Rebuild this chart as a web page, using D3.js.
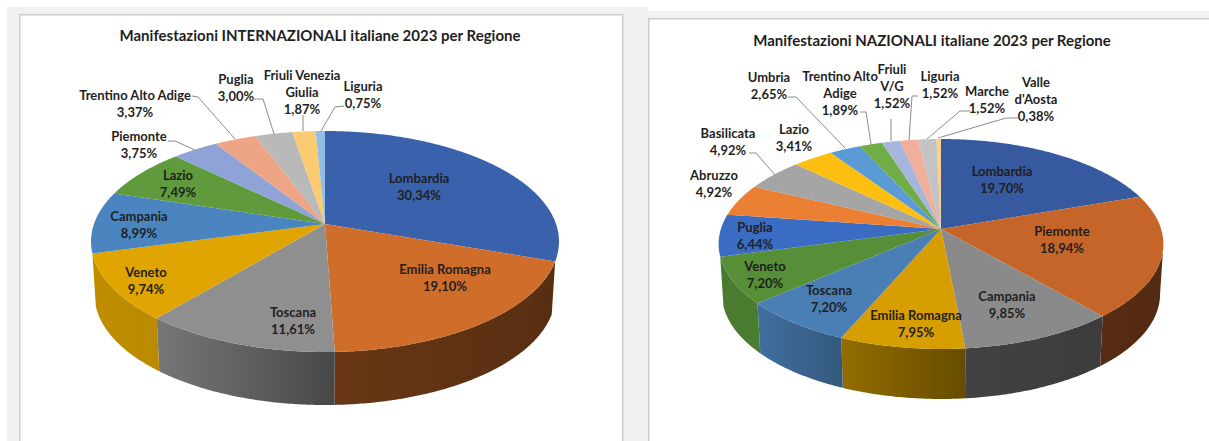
<!DOCTYPE html>
<html>
<head>
<meta charset="utf-8">
<script src="https://cdn.jsdelivr.net/npm/d3@7"></script>
<style>
  html, body { margin: 0; padding: 0; background: #fff; }
  svg { display: block; }
  text { font-family: Lato, "Noto Sans", sans-serif; font-weight: 700; fill: #1f1f1f; }
</style>
</head>
<body>
<svg id="chart" width="1209" height="441"></svg>
<script>
// Internazionali
const intlRegions = ["Lombardia", "Emilia Romagna", "Toscana", "Veneto", "Campania", "Lazio", "Piemonte", "Trentino Alto Adige", "Puglia", "Friuli Venezia Giulia", "Liguria"];
const intlValues = [30.34, 19.10, 11.61, 9.74, 8.99, 7.49, 3.75, 3.37, 3.00, 1.87, 0.75];
const intlColors = ["#3a62ac", "#cf6d2a", "#8f8f8f", "#e0a500", "#4a85bf", "#5f9a3c", "#8fa3d6", "#eda585", "#b9b9b9", "#fbcb72", "#92bee5"];

// Nazionali
const natRegions = ["Lombardia", "Piemonte", "Campania", "Emilia Romagna", "Toscana", "Veneto", "Puglia", "Abruzzo", "Basilicata", "Lazio", "Umbria", "Trentino Alto Adige", "Friuli V/G", "Liguria", "Marche", "Valle d'Aosta"];
const natValues = [19.70, 18.94, 9.85, 7.95, 7.20, 7.20, 6.44, 4.92, 4.92, 3.41, 2.65, 1.89, 1.52, 1.52, 1.52, 0.38];
const natColors = ["#36599f", "#c5652a", "#8a8a8a", "#d69e00", "#4a7fb5", "#568f38", "#3a6cc4", "#eb7f34", "#a5a5a5", "#ffbf10", "#5b9bd5", "#70ad47", "#a5b5db", "#f0af9a", "#c3c3c3", "#f8cf8e"];

// Label placement per chart: text lines, centre x, first baseline y, optional leader polyline
const intlLabels = [
  { lines: ["Lombardia", "30,34%"], x: 419, y: 183 },
  { lines: ["Emilia Romagna", "19,10%"], x: 445, y: 274 },
  { lines: ["Toscana", "11,61%"], x: 293, y: 317 },
  { lines: ["Veneto", "9,74%"], x: 146, y: 277 },
  { lines: ["Campania", "8,99%"], x: 139, y: 221 },
  { lines: ["Lazio", "7,49%"], x: 178, y: 180 },
  { lines: ["Piemonte", "3,75%"], x: 139, y: 141, leader: [[168, 141], [175, 141], [195, 150]] },
  { lines: ["Trentino Alto Adige", "3,37%"], x: 135, y: 100, leader: [[192, 96], [198, 97], [235, 139]] },
  { lines: ["Puglia", "3,00%"], x: 236, y: 84, leader: [[254, 99], [263, 99], [274, 134]] },
  { lines: ["Friuli Venezia", "Giulia", "1,87%"], x: 302, y: 80, leader: [[303, 115], [303, 131]] },
  { lines: ["Liguria", "0,75%"], x: 363, y: 91, leader: [[344, 106], [335, 107], [321, 131]] }
];
const natLabels = [
  { lines: ["Lombardia", "19,70%"], x: 1002, y: 176 },
  { lines: ["Piemonte", "18,94%"], x: 1062, y: 236 },
  { lines: ["Campania", "9,85%"], x: 1007, y: 301 },
  { lines: ["Emilia Romagna", "7,95%"], x: 916, y: 320 },
  { lines: ["Toscana", "7,20%"], x: 829, y: 295 },
  { lines: ["Veneto", "7,20%"], x: 765, y: 271 },
  { lines: ["Puglia", "6,44%"], x: 755, y: 232 },
  { lines: ["Abruzzo", "4,92%"], x: 714, y: 180 },
  { lines: ["Basilicata", "4,92%"], x: 728, y: 138, leader: [[749, 153], [756, 153], [775, 175]] },
  { lines: ["Lazio", "3,41%"], x: 794, y: 134 },
  { lines: ["Umbria", "2,65%"], x: 769, y: 82, leader: [[788, 97], [796, 97], [845, 148]] },
  { lines: ["Trentino Alto", "Adige", "1,89%"], x: 840, y: 81, leader: [[860, 112], [866, 112], [871, 144]] },
  { lines: ["Friuli", "V/G", "1,52%"], x: 892, y: 74, leader: [[891, 119], [891, 141]] },
  { lines: ["Liguria", "1,52%"], x: 940, y: 81, leader: [[918, 96], [912, 96], [909, 140]] },
  { lines: ["Marche", "1,52%"], x: 987, y: 96, leader: [[970, 111], [960, 111], [927, 139]] },
  { lines: ["Valle", "d'Aosta", "0,38%"], x: 1036, y: 87, leader: [[1018, 118], [1006, 118], [938, 138]] }
];

const svg = d3.select("#chart");
const defs = svg.append("defs");

// Window frame behind the two chart panels
const frame = "#f1f1f1", edge = "#cdcdcd";
[[7, 7, 630, 7], [7, 7, 12, 434], [623, 7, 25, 434], [637, 11, 572, 7]].forEach(([x, y, w, h]) =>
  svg.append("rect").attr("x", x).attr("y", y).attr("width", w).attr("height", h).attr("fill", frame));
[[19, 14, 603, 1.5], [19, 14, 1.5, 427], [622, 14, 1.5, 427], [648, 18, 561, 1.5], [648, 18, 1.5, 423]].forEach(([x, y, w, h]) =>
  svg.append("rect").attr("x", x).attr("y", y).attr("width", w).attr("height", h).attr("fill", edge));

// Wall brightness by angle around the disc, in degrees clockwise from the top
const wallShade = d3.scaleLinear()
  .domain([99, 170, 180, 202, 225, 261])
  .range([0.42, 0.45, 0.52, 0.68, 0.88, 0.85])
  .clamp(true);

function drawPie(cfg) {
  const { values, colors, labels, cx, cy, halfW, up, down, depth, title, titleX, titleY } = cfg;
  const g = svg.append("g");

  // Perspective tilt of the disc: the near half is stretched against the far half
  const k = (down - up) / (down + up);
  const a = down * (1 - k);
  const b = halfW * Math.sqrt(1 - k * k);
  const project = (ang, shrink = 1, dy = 0) => {
    const u = Math.sin(ang), v = -Math.cos(ang), s = 1 / (1 - k * v);
    return [cx + b * u * s * shrink, cy + a * v * s + dy];
  };
  const line = d3.line();
  const rim = (a0, a1, shrink, dy) => {
    const n = Math.max(2, Math.ceil((a1 - a0) / 0.01));
    return d3.range(n + 1).map(i => project(a0 + (a1 - a0) * i / n, shrink, dy));
  };

  const arcs = d3.pie().sort(null).value(d => d)(values);

  // Side wall from the widest point on the right round to the left edge of the rim;
  // a slice that only grazes the widest point gets no wall of its own
  const front = [Math.PI - Math.acos(k), 255 * Math.PI / 180];
  const minWall = 15 * Math.PI / 180;
  arcs.forEach((d, i) => {
    const a0 = Math.max(d.startAngle, front[0]), a1 = Math.min(d.endAngle, front[1]);
    if (a1 - a0 < minWall) return;
    const top = rim(a0, a1, 1, 0);
    const bot = rim(a0, a1, 0.985, depth).reverse();
    const xs = top.concat(bot).map(p => p[0]);
    const id = `wall-${cx}-${i}`;
    const base = d3.color(colors[i]);
    const mix = t => d3.rgb(base.r * t, base.g * t, base.b * t);
    const deg = x => x * 180 / Math.PI;
    const grad = defs.append("linearGradient").attr("id", id)
      .attr("gradientUnits", "userSpaceOnUse")
      .attr("x1", d3.min(xs)).attr("x2", d3.max(xs)).attr("y1", 0).attr("y2", 0);
    grad.append("stop").attr("offset", 0).attr("stop-color", mix(wallShade(deg(a1))));
    grad.append("stop").attr("offset", 1).attr("stop-color", mix(wallShade(deg(a0))));
    g.append("path").attr("d", line(top.concat(bot)) + "Z").attr("fill", `url(#${id})`);
  });

  // Top face of the disc
  arcs.forEach((d, i) => {
    const pts = [[cx, cy]].concat(rim(d.startAngle, d.endAngle, 1, 0));
    g.append("path").attr("d", line(pts) + "Z").attr("fill", colors[i]);
  });

  // Leader lines and labels
  labels.forEach(l => {
    if (l.leader) {
      g.append("path").attr("d", line(l.leader)).attr("fill", "none")
        .attr("stroke", "#8c8c8c").attr("stroke-width", 1);
    }
    const t = g.append("text").attr("text-anchor", "middle").style("font-size", "13px");
    l.lines.forEach((s, j) => t.append("tspan").attr("x", l.x).attr("y", l.y + j * 17).text(s));
  });

  g.append("text").attr("x", titleX).attr("y", titleY).attr("text-anchor", "middle")
    .style("font-size", "15px").text(title);
}

drawPie({
  values: intlValues, colors: intlColors, labels: intlLabels,
  cx: 325, cy: 224, halfW: 234, up: 93, down: 128, depth: 53,
  title: "Manifestazioni INTERNAZIONALI italiane 2023 per Regione", titleX: 320, titleY: 41
});
drawPie({
  values: natValues, colors: natColors, labels: natLabels,
  cx: 941, cy: 229, halfW: 222.4, up: 90, down: 120, depth: 50,
  title: "Manifestazioni NAZIONALI italiane 2023 per Regione", titleX: 932, titleY: 46
});
</script>
</body>
</html>
